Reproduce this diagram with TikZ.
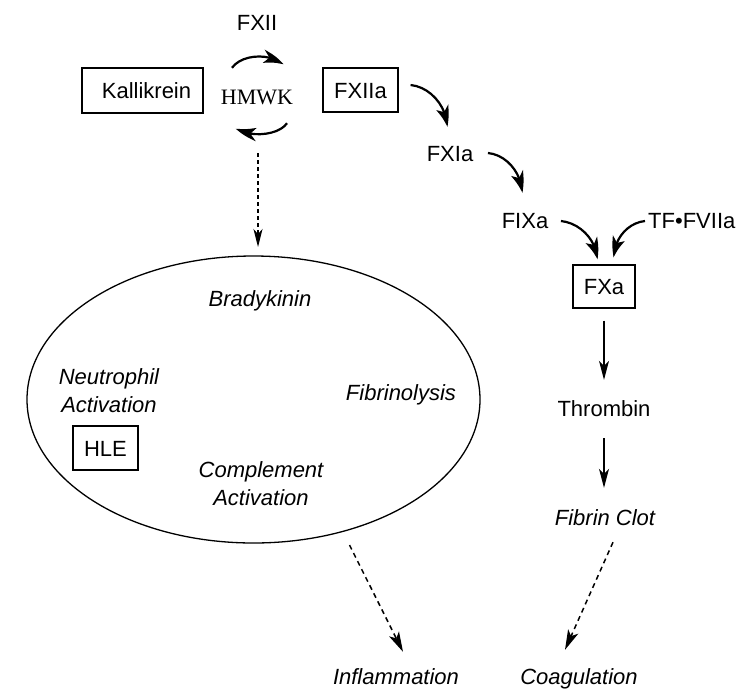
\documentclass[tikz,border=0pt]{standalone}
\usepackage{fontspec}
\setmainfont{Liberation Sans}
\newfontfamily\hmserif{Liberation Serif}
\usetikzlibrary{arrows.meta,calc,bending}
\begin{document}
\begin{tikzpicture}[x=1pt,y=1pt,
  every node/.style={inner sep=0pt, text height=16pt, text depth=0pt, font=\fontsize{22}{28}\selectfont},
  lbl/.style={},
  ilbl/.style={font=\itshape\fontsize{22}{28}\selectfont},
  twoline/.style={ilbl, align=center, text height=, text depth=},
  fbox/.style={draw, line width=1.2pt},
  carrow/.style={line width=2.2pt, -{Stealth[length=20pt,width=13pt,inset=5pt,bend]}},
  varrow/.style={line width=1.2pt, -{Stealth[length=19pt,width=10pt,inset=5pt]}},
  darrow/.style={line width=1.5pt, dash pattern=on 5pt off 4pt, -{Stealth[length=20pt,width=11pt,inset=5pt]}},
  vdarrow/.style={line width=1.3pt, dash pattern=on 4pt off 3pt, -{Stealth[length=18pt,width=9pt,inset=5pt]}}
]
\useasboundingbox (0,0) rectangle (754,-691);
\fill[white] (0,0) rectangle (754,-691);

% top: contact system
\node[lbl] (FXII) at (257,-22) {FXII};
\node[fbox, minimum width=121pt, minimum height=45pt] (Kal) at (142.5,-90.5) {\hspace*{8pt}Kallikrein};
\node[lbl, font=\hmserif\fontsize{22}{28}\selectfont] (HMWK) at (257,-96) {HMWK};
\node[fbox, minimum width=75pt, minimum height=44pt] (FXIIa) at (360.5,-90) {FXIIa};

% coagulation cascade
\node[lbl] (FXIa) at (450,-153) {FXIa};
\node[lbl] (FIXa) at (525,-220) {FIXa};
\node[lbl, anchor=west] (TF) at (648,-220) {TF•FVIIa};
\node[fbox, minimum width=62pt, minimum height=43pt] (FXa) at (604,-286.5) {FXa};
\node[lbl] (Thr) at (604,-408) {Thrombin};
\node[ilbl] (Fib) at (605,-517) {Fibrin Clot};

% ellipse of contact-system effects
\draw[line width=1.3pt] (253.5,-399.5) ellipse [x radius=226.5, y radius=143.5];
\coordinate (ellN) at (253.5,-256);
\coordinate (ellS) at (253.5,-543);
\node[ilbl] (Brady) at (260,-298) {Bradykinin};
\node[twoline] (Neut) at (109,-391) {Neutrophil\\Activation};
\node[fbox, minimum width=65pt, minimum height=44pt] (HLE) at (105.5,-448) {HLE};
\node[ilbl] (Fibrino) at (401,-392) {Fibrinolysis};
\node[twoline] (Compl) at (261,-483.5) {Complement\\Activation};

% outcomes
\node[ilbl] (Infl) at (396,-676) {Inflammation};
\node[ilbl] (Coag) at (579,-676) {Coagulation};

% HMWK cycle
\draw[carrow] ($(HMWK.north)+(-25,20)$) .. controls +(10,14) and +(-12,12) .. ($(HMWK.north)+(26,23)$);
\draw[carrow] ($(HMWK.south)+(30,-19)$) .. controls +(-8,-12) and +(14,-10) .. ($(HMWK.south)+(-21,-24)$);

% cascade arrows
\draw[carrow] ($(FXIIa.east)+(12,5)$) .. controls +(20,-2) and +(0,20) .. ($(FXIa.north)+(-3,18)$);
\draw[carrow] ($(FXIa.east)+(14.5,0)$) .. controls +(20,-2) and +(0,18) .. ($(FIXa.north)+(-3,19)$);
\draw[carrow] ($(FIXa.east)+(12.5,-1)$) .. controls +(20,-2) and +(0,18) .. ($(FXa.north)+(-7,5)$);
\draw[carrow] ($(TF.west)+(-3,-1)$) .. controls +(-18,-2) and +(0,18) .. ($(FXa.north)+(10,7)$);
\draw[varrow] ($(FXa.south)+(0,-12)$) -- ($(Thr.north)+(0,20)$);
\draw[varrow] ($(Thr.south)+(0,-22)$) -- ($(Fib.north)+(-1,21)$);
\draw[darrow] ($(Fib.south)+(8,-17)$) -- ($(Coag.north)+(-14,18)$);

% contact system to effects
\draw[vdarrow] ($(HMWK.south)+(1,-49)$) -- ($(ellN)+(4.5,9)$);
\draw[darrow] ($(ellS)+(96,-2)$) -- ($(Infl.north)+(7,16)$);
\end{tikzpicture}
\end{document}
